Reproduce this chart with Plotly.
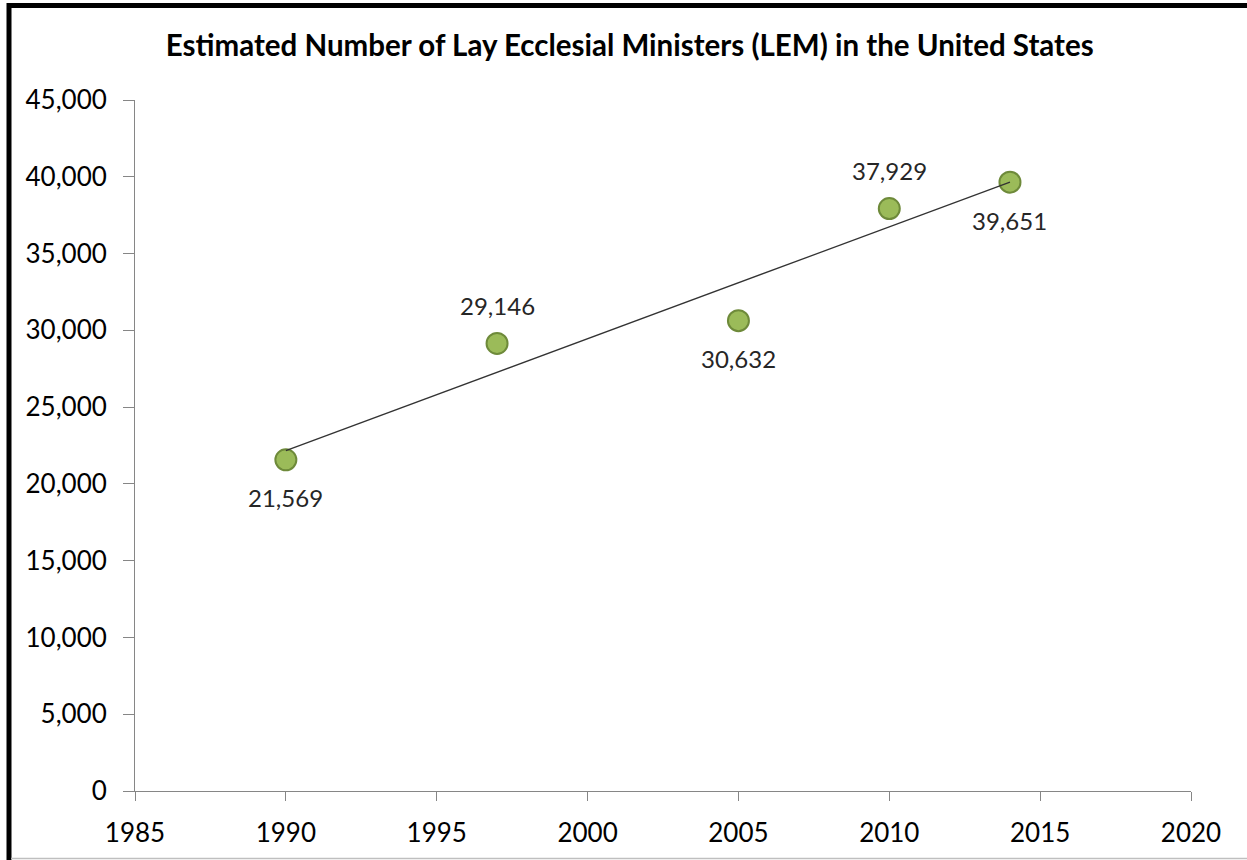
import numpy as np
import plotly.graph_objects as go

years = [1990, 1997, 2005, 2010, 2014]
lem_counts = [21569, 29146, 30632, 37929, 39651]
label_side = ["below", "above", "below", "above", "below"]

x_ticks = [1985, 1990, 1995, 2000, 2005, 2010, 2015, 2020]
y_ticks = [0, 5000, 10000, 15000, 20000, 25000, 30000, 35000, 40000, 45000]

W, H = 1247, 860
L, R, T, B = 135, 1191, 100, 791


def px(x):
    return (x - L) / (R - L)


def py(y):
    return (B - y) / (B - T)


# linear trendline (like Excel's)
slope, intercept = np.polyfit(years, lem_counts, 1)
trend_x = [years[0], years[-1]]
trend_y = [slope * x + intercept for x in trend_x]

fig = go.Figure()
fig.add_trace(go.Scatter(
    x=years, y=lem_counts, mode="markers",
    marker=dict(size=21, color="#9BBB59", line=dict(color="#6E8A3A", width=2)),
    showlegend=False, hoverinfo="x+y"
))
fig.add_trace(go.Scatter(
    x=trend_x, y=trend_y, mode="lines",
    line=dict(color="#333333", width=1.3),
    showlegend=False, hoverinfo="skip"
))

for x, y, side in zip(years, lem_counts, label_side):
    fig.add_annotation(
        x=x, y=y, text=f"{y:,}", showarrow=False,
        yshift=38 if side == "above" else -38,
        font=dict(family="Lato, Open Sans, sans-serif", size=24, color="#262626")
    )

# frame around the picture
fig.add_shape(type="line", xref="paper", yref="paper",
              x0=px(9), x1=px(9), y0=py(3), y1=py(860),
              line=dict(color="black", width=5))
fig.add_shape(type="line", xref="paper", yref="paper",
              x0=px(7), x1=px(1247), y0=py(5.5), y1=py(5.5),
              line=dict(color="black", width=5))
fig.add_shape(type="line", xref="paper", yref="paper",
              x0=px(11), x1=px(1247), y0=py(858.5), y1=py(858.5),
              line=dict(color="#BFBFBF", width=1.5))

fig.update_layout(
    width=W, height=H,
    margin=dict(l=L, r=W - R, t=T, b=H - B),
    paper_bgcolor="white", plot_bgcolor="white",
    font=dict(family="Lato, Open Sans, sans-serif", color="black"),
    title=dict(
        text="<b>Estimated Number of Lay Ecclesial Ministers (LEM) in the United States</b>",
        x=0.505, xref="container", xanchor="center",
        y=1 - 46 / H, yref="container", yanchor="middle",
        font=dict(size=29.5, color="black")
    ),
    xaxis=dict(
        range=[1985, 2020], tickvals=x_ticks, ticktext=[str(v) for v in x_ticks],
        showgrid=False, zeroline=False, showline=True, linecolor="#868686", linewidth=1,
        ticks="outside", ticklen=9, tickcolor="#868686",
        tickfont=dict(size=26, color="black"), ticklabelstandoff=10
    ),
    yaxis=dict(
        range=[0, 45000], tickvals=y_ticks, ticktext=[f"{v:,}" for v in y_ticks],
        showgrid=False, zeroline=False, showline=True, linecolor="#868686", linewidth=1,
        ticks="outside", ticklen=11, tickcolor="#868686",
        tickfont=dict(size=26, color="black"), ticklabelstandoff=11
    ),
)

# drop the page's default body margin so the figure sits at the window's corner
fig.write_html(
    "out.html",
    config={"displayModeBar": False},
    post_script="document.body.style.margin='0';document.body.style.overflow='hidden';",
)
